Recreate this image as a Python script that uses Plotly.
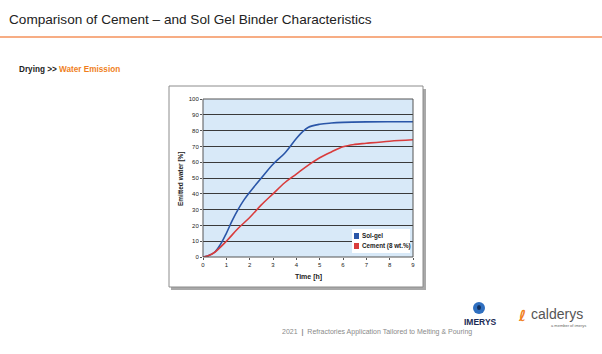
import plotly.graph_objects as go

# ---- data ----
solgel_t = [0, 0.25, 0.5, 0.75, 1, 1.25, 1.5, 1.75, 2, 2.5, 3, 3.5, 4, 4.25, 4.5, 5, 5.5, 6, 7, 8, 9]
solgel_w = [0, 1, 3, 8, 15, 23, 30, 36, 41, 50, 58.7, 65.7, 75, 79, 82, 84, 84.8, 85.2, 85.5, 85.6, 85.6]
cement_t = [0, 0.25, 0.5, 1, 1.5, 2, 2.5, 3, 3.5, 4, 4.5, 5, 5.5, 6, 6.5, 7, 8, 9]
cement_w = [0, 1, 3, 10, 18, 25, 33, 40, 47, 52.5, 58, 62.8, 66.5, 69.8, 71.3, 72, 73.3, 74.2]
x_ticks = [0, 1, 2, 3, 4, 5, 6, 7, 8, 9]
y_ticks = [0, 10, 20, 30, 40, 50, 60, 70, 80, 90, 100]
series_names = ["Sol-gel", "Cement (8 wt.%)"]
series_colors = ["#2a56a8", "#d93c3c"]

W, H = 602, 354
L, R, T, B = 203, 413, 99, 257
pw, ph = R - L, B - T

def px(x):
    return (x - L) / pw

def py(y):
    return (B - y) / ph

NARROW = "Liberation Sans Narrow, Arial Narrow, Liberation Sans, sans-serif"
SANS = "Liberation Sans, Arial, sans-serif"

fig = go.Figure()
fig.add_trace(go.Scatter(x=solgel_t, y=solgel_w, mode="lines", name=series_names[0],
                         line=dict(color=series_colors[0], width=1.6, shape="spline"), showlegend=False))
fig.add_trace(go.Scatter(x=cement_t, y=cement_w, mode="lines", name=series_names[1],
                         line=dict(color=series_colors[1], width=1.6, shape="spline"), showlegend=False))

shapes = []
# chart frame with shadow
shapes.append(dict(type="rect", xref="paper", yref="paper", x0=px(171), x1=px(426), y0=py(89), y1=py(290),
                   line=dict(width=0), fillcolor="#a9a9a9", layer="below"))
shapes.append(dict(type="rect", xref="paper", yref="paper", x0=px(169), x1=px(423), y0=py(86), y1=py(287),
                   line=dict(width=1, color="#8c8c8c"), fillcolor="white", layer="below"))
shapes.append(dict(type="rect", xref="paper", yref="paper", x0=0, x1=1, y0=0, y1=1,
                   line=dict(width=0), fillcolor="#d8e9f8", layer="below"))
shapes.append(dict(type="rect", xref="paper", yref="paper", x0=0, x1=1, y0=0, y1=1,
                   line=dict(width=1, color="#555"), fillcolor="rgba(0,0,0,0)", layer="above"))
# header line
shapes.append(dict(type="line", xref="paper", yref="paper", x0=px(0), x1=px(602), y0=py(37), y1=py(37),
                   line=dict(width=2, color="#f7ad84")))
# imerys icon
shapes.append(dict(type="circle", xref="paper", yref="paper", x0=px(473), x1=px(485), y0=py(302), y1=py(314),
                   line=dict(width=0), fillcolor="#2f6fc0"))
shapes.append(dict(type="circle", xref="paper", yref="paper", x0=px(477), x1=px(481), y0=py(305), y1=py(310),
                   line=dict(width=0), fillcolor="#12305e"))
# manual legend
shapes.append(dict(type="rect", xref="paper", yref="paper", x0=px(352), x1=px(410), y0=py(229), y1=py(253),
                   line=dict(width=0), fillcolor="white", layer="above"))

annotations = []
for i, (n, c) in enumerate(zip(series_names, series_colors)):
    yc = 236 + i * 10
    shapes.append(dict(type="rect", xref="paper", yref="paper", x0=px(354), x1=px(359), y0=py(yc - 3), y1=py(yc + 3),
                       line=dict(width=0), fillcolor=c, layer="above"))
    annotations.append(dict(text="<b>" + n + "</b>", x=px(360), y=py(yc), xanchor="left", yanchor="middle",
                            font=dict(family=NARROW, size=6.3, color="#222")))

annotations += [
    dict(text="Comparison of Cement – and Sol Gel Binder Characteristics", x=px(7), y=py(19), xanchor="left", yanchor="middle",
         font=dict(family=SANS, size=13.6, color="#222")),
    dict(text="<b>Drying >> <span style='color:#f07f1d'>Water Emission</span></b>", x=px(17), y=py(70), xanchor="left", yanchor="middle",
         font=dict(family=SANS, size=8.2, color="#222")),
    dict(text="<b>Emitted water [%]</b>", x=px(181), y=py(179), textangle=-90, xanchor="center", yanchor="middle",
         font=dict(family=SANS, size=6.5, color="#222")),
    dict(text="<b>Time [h]</b>", x=px(308), y=py(277), xanchor="center", yanchor="middle",
         font=dict(family=SANS, size=7, color="#222")),
    dict(text="2021  <b>|</b>  Refractories Application Tailored to Melting & Pouring", x=px(280), y=py(332), xanchor="left", yanchor="middle",
         font=dict(family=SANS, size=7, color="#8a8a8a")),
    dict(text="<b>IMERYS</b>", x=px(480), y=py(322), xanchor="center", yanchor="middle",
         font=dict(family=SANS, size=8.5, color="#1c2b55")),
    dict(text="<b>ℓ</b>", x=px(522), y=py(316), xanchor="center", yanchor="middle",
         font=dict(family="DejaVu Sans, sans-serif", size=15, color="#f07f1d")),
    dict(text="calderys", x=px(529), y=py(314), xanchor="left", yanchor="middle",
         font=dict(family=SANS, size=14, color="#555")),
    dict(text="a member of imerys", x=px(588), y=py(325), xanchor="right", yanchor="middle",
         font=dict(family=SANS, size=4, color="#666")),
]
for a in annotations:
    a.update(xref="paper", yref="paper", showarrow=False)

fig.update_layout(
    width=W, height=H, margin=dict(l=L, r=W - R, t=T, b=H - B),
    paper_bgcolor="white", plot_bgcolor="rgba(0,0,0,0)",
    shapes=shapes, annotations=annotations,
    showlegend=False,
    xaxis=dict(range=[0, 9], tickvals=x_ticks, showgrid=False, zeroline=False, showline=False,
               ticks="outside", ticklen=2, tickcolor="#555",
               tickfont=dict(family=SANS, size=6, color="#222"), fixedrange=True),
    yaxis=dict(range=[0, 100], tickvals=y_ticks, showgrid=True, gridcolor="#3a3a3a", gridwidth=1,
               zeroline=False, showline=False, ticks="outside", ticklen=2, tickcolor="#555",
               tickfont=dict(family=SANS, size=6, color="#222"), fixedrange=True),
)

fig.write_html("out.html")
